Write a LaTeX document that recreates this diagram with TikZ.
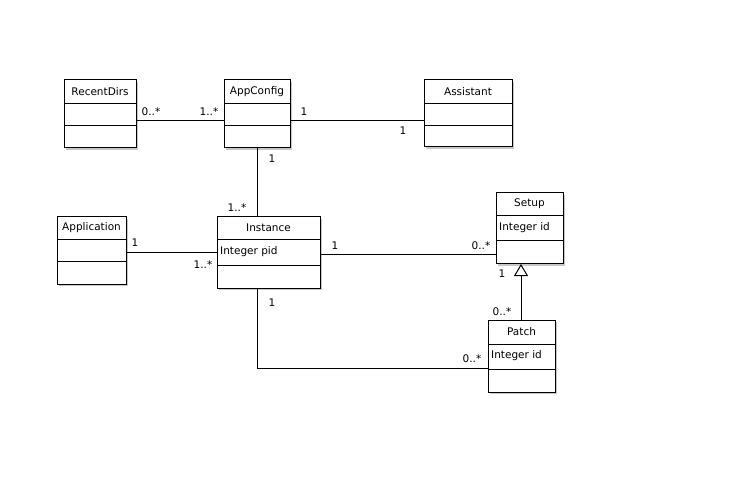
\documentclass[tikz,border=0pt]{standalone}
\usepackage{fontspec}
\setmainfont{DejaVu Sans}
\usetikzlibrary{arrows.meta}
\definecolor{shadowgray}{RGB}{200,200,200}
\tikzset{
  x=1bp, y=-1bp,
  clsbox/.style={draw=black, fill=white, line width=1bp, rectangle, inner sep=0pt, outer sep=0pt},
  clstext/.style={font=\fontsize{10.5bp}{12bp}\selectfont, inner sep=0pt},
  mult/.style={font=\fontsize{10.5bp}{12bp}\selectfont, inner sep=0pt},
  assoc/.style={draw=black, line width=1bp},
  general/.style={assoc, -{Triangle[open, length=12bp, width=14bp]}},
}
% class box: name, x1, y1, x2, y2, separator 1, separator 2, title, attribute
\newcommand\umlclass[9]{%
  \fill[shadowgray] (#2+2,#3+2) rectangle (#4+2,#5+2);
  \node[clsbox, anchor=north west, minimum width={(#4-#2)*1bp}, minimum height={(#5-#3)*1bp}] (#1) at (#2,#3) {};
  \draw[line width=1bp] (#1.west |- 0,#6) -- (#1.east |- 0,#6);
  \draw[line width=1bp] (#1.west |- 0,#7) -- (#1.east |- 0,#7);
  \node[clstext] (#1-title) at ({(#2+#4)/2},{(#3+#6)/2-0.5}) {#8};
  \node[clstext, anchor=west] (#1-attr) at (#2+3,#6+12) {#9};
}
\begin{document}
\begin{tikzpicture}
\useasboundingbox (0,0) rectangle (747,485);
\fill[white] (0,0) rectangle (747,485);

% classes
\umlclass{rd}{64}{80}{136}{148}{104}{126}{RecentDirs}{}
\umlclass{ac}{224}{80}{290}{148}{104}{126}{AppConfig}{}
\umlclass{as}{424}{80}{512}{147}{104}{126}{Assistant}{}
\umlclass{app}{57}{217}{126}{284}{240}{262}{Application}{}
\umlclass{inst}{217}{217}{320}{288}{240}{266}{Instance}{Integer pid}
\umlclass{setup}{496}{193}{563}{264}{216}{241}{Setup}{Integer id}
\umlclass{patch}{488}{320}{555}{392}{344}{369}{Patch}{Integer id}

% associations
\draw[assoc] (rd.east |- 0,121) -- (ac.west |- 0,121);
\draw[assoc] (ac.east |- 0,121) -- (as.west |- 0,121);
\draw[assoc] (257,0 |- ac.south) -- (257,0 |- inst.north);
\draw[assoc] (app.east |- 0,253) -- (inst.west |- 0,253);
\draw[assoc] (inst.east |- 0,255) -- (setup.west |- 0,255);
\draw[assoc] (257,0 |- inst.south) |- (patch.west |- 0,368);
% generalization
\draw[general] (521,0 |- patch.north) -- (521,0 |- setup.south);

% multiplicities
\node[mult] (m1) at (151,112) {0..*};
\node[mult] (m2) at (209,112) {1..*};
\node[mult] (m3) at (304,112) {1};
\node[mult] (m4) at (403,131) {1};
\node[mult] (m5) at (272,159) {1};
\node[mult] (m6) at (237,208) {1..*};
\node[mult] (m7) at (135,243) {1};
\node[mult] (m8) at (203,265) {1..*};
\node[mult] (m9) at (335,246) {1};
\node[mult] (m10) at (481,246) {0..*};
\node[mult] (m11) at (502,274) {1};
\node[mult] (m12) at (502,312) {0..*};
\node[mult] (m13) at (272,303) {1};
\node[mult] (m14) at (472,359) {0..*};
\end{tikzpicture}
\end{document}
